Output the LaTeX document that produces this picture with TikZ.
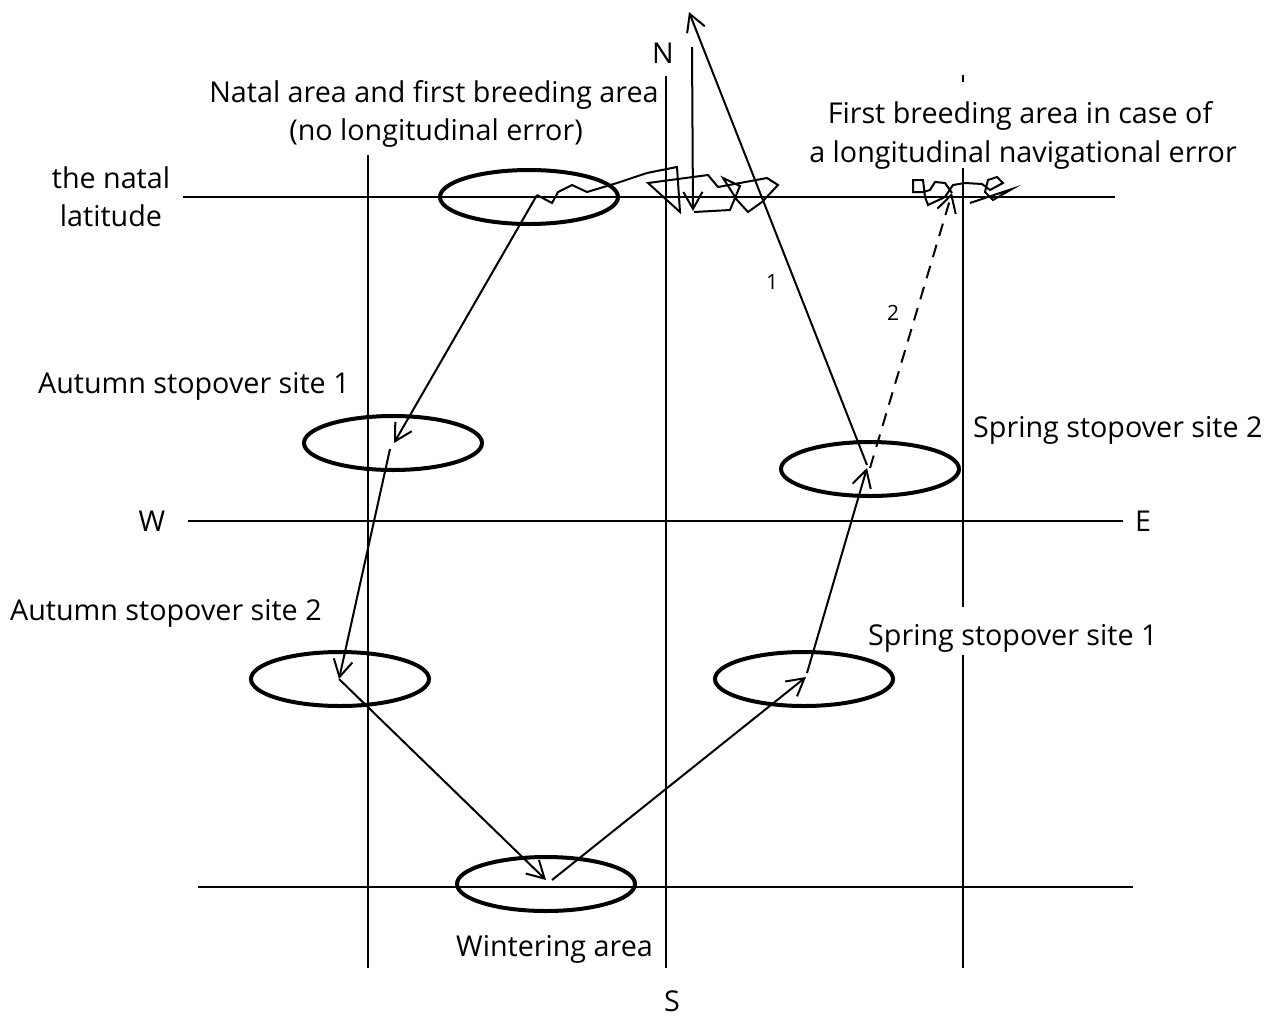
\documentclass[tikz,border=0pt]{standalone}
\usepackage{fontspec}
\setmainfont{Open Sans}
\usetikzlibrary{arrows.meta,shapes.geometric}
\begin{document}
\begin{tikzpicture}[x=1pt,y=-1pt,
  grid/.style={line width=2pt},
  site/.style={draw, ellipse, line width=4pt, minimum width=178pt, minimum height=54pt, inner sep=0pt},
  mig/.style={line width=2pt, -{Straight Barb[length=17pt,width=19pt]}},
  track/.style={line width=2pt, line join=miter},
  lbl/.style={font=\fontsize{28.7}{34}\selectfont, inner sep=0pt},
  num/.style={font=\fontsize{21}{25}\selectfont, inner sep=0pt}]
\useasboundingbox (0,0) rectangle (1282,1018);

% grid lines
\draw[grid] (183,197) coordinate (hn1) -- (1115,197) coordinate (hn2);
\draw[grid] (188,521) coordinate (hm1) -- (1123,521) coordinate (hm2);
\draw[grid] (198,887) coordinate (hs1) -- (1133,887) coordinate (hs2);
\draw[grid] (368,155) coordinate (vl1) -- (368,968) coordinate (vl2);
\draw[grid] (666,76) coordinate (vm1) -- (666,968) coordinate (vm2);
\draw[grid] (963,75) coordinate (vr1) -- (963,82) coordinate (vr2);
\draw[grid] (963,168) coordinate (vr3) -- (963,607) coordinate (vr4);
\draw[grid] (963,655) coordinate (vr5) -- (963,968) coordinate (vr6);

% sites
\node[site] (natal) at (529,197) {};
\node[site] (aut1) at (393,443) {};
\node[site] (aut2) at (340,679) {};
\node[site] (wint) at (546,884) {};
\node[site] (spr1) at (804,679) {};
\node[site] (spr2) at (870,469) {};

% migration points
\coordinate (p0) at (537,195);
\coordinate (p1) at (394,443);
\coordinate (p1b) at (390,449);
\coordinate (p2) at (339,679);
\coordinate (p3) at (546,880);
\coordinate (p3b) at (552,880);
\coordinate (p4) at (806,677);
\coordinate (p4b) at (807,673);
\coordinate (p5) at (867,468);
\coordinate (p5b) at (867,465);
\coordinate (p5c) at (870,468);
\coordinate (top) at (689,12);
\coordinate (err) at (952,193);
\coordinate (nA) at (692,47);
\coordinate (nB) at (693,211);

\draw[mig] (p0) -- (p1);
\draw[mig] (p1b) -- (p2);
\draw[mig] (p2) -- (p3);
\draw[mig] (p3b) -- (p4);
\draw[mig] (p4b) -- (p5);
\draw[mig] (p5b) -- (top);
\draw[mig, dash pattern=on 13pt off 9pt] (p5c) -- (err);
\draw[mig] (nA) -- (nB);
\node[num] (n1) at (772,282) {1};
\node[num] (n2) at (893,313) {2};

% exploration tracks
\draw[track] (p0) -- (552,203) -- (558,192) -- (572,185) -- (587,192) -- (617,183)
  -- (647,173) -- (677,167) -- (680,212) -- (648,183) -- (708,175) -- (718,187)
  -- (740,183) -- (767,178) -- (778,185) -- (762,202) -- (748,212) -- (737,200)
  -- (723,178) -- (740,186) -- (730,210) -- (694,212);
\draw[track] (err) -- (945,183) -- (935,182) -- (930,190) -- (923,192) -- (913,192)
  -- (913,180) -- (923,180) -- (925,197) -- (928,205) -- (945,197) -- (953,185)
  -- (965,183) -- (982,184) -- (990,190) -- (1003,183) -- (997,177) -- (988,180)
  -- (985,192) -- (993,200) -- (1012,189) -- (985,198) -- (970,203);

% labels
\node[lbl, anchor=base] (tN) at (663,63) {N};
\node[lbl, anchor=base] (tS) at (672,1011) {S};
\node[lbl, anchor=base] (tW) at (152,531) {W};
\node[lbl, anchor=base] (tE) at (1143,531) {E};
\node[lbl, anchor=base] (tnat1) at (434,102) {Natal area and first breeding area};
\node[lbl, anchor=base] (tnat2) at (436,140) {(no longitudinal error)};
\node[lbl, anchor=base] (tlat1) at (111,188) {the natal};
\node[lbl, anchor=base] (tlat2) at (111,226) {latitude};
\node[lbl, anchor=base] (terr1) at (1020,123) {First breeding area in case of};
\node[lbl, anchor=base] (terr2) at (1023,162) {a longitudinal navigational error};
\node[lbl, anchor=base west] (ta1) at (38,393) {Autumn stopover site 1};
\node[lbl, anchor=base west] (ts2) at (973,437) {Spring stopover site 2};
\node[lbl, anchor=base west] (ta2) at (10,620) {Autumn stopover site 2};
\node[lbl, anchor=base west] (ts1) at (868,645) {Spring stopover site 1};
\node[lbl, anchor=base west] (tw) at (456,956) {Wintering area};
\end{tikzpicture}
\end{document}
